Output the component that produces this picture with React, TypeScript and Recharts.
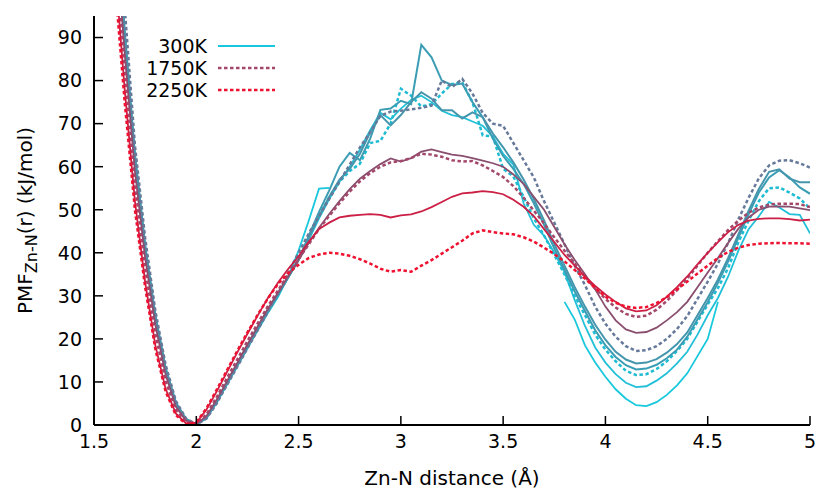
import React from "react";
import { LineChart, Line, XAxis, YAxis, Legend } from "recharts";

// Zn-N distance grid (Å)
const dist = [
  1.6, 1.65, 1.7, 1.75, 1.8, 1.85, 1.9, 1.95, 2.0, 2.05, 2.1, 2.15, 2.2, 2.25, 2.3, 2.35, 2.4, 2.45, 2.5,
  2.55, 2.6, 2.65, 2.7, 2.75, 2.8, 2.85, 2.9, 2.95, 3.0, 3.05, 3.1, 3.15, 3.2, 3.25, 3.3, 3.35, 3.4, 3.45,
  3.5, 3.55, 3.6, 3.65, 3.7, 3.75, 3.8, 3.85, 3.9, 3.95, 4.0, 4.05, 4.1, 4.15, 4.2, 4.25, 4.3, 4.35, 4.4,
  4.45, 4.5, 4.55, 4.6, 4.65, 4.7, 4.75, 4.8, 4.85, 4.9, 4.95, 5.0
];

// PMF curves (kJ/mol), one per temperature
const pmf300 = [
  122, 90, 62, 41, 25, 13, 5, 1.3, 0.1, 1.6, 5.2, 9.4, 13.6, 17.8, 22, 26, 29.8, 34.5, 40.5,
  47.5, 54.9, 55.1, null, null, null, null, null, null, null, null, null, null, null, null, null, null, null, null,
  null, null, null, null, null, null, 28.6, 24.5, 18.5, 14.5, 11.2, 8.3, 6.1, 4.6, 4.4, 5.3, 7, 9.2, 12,
  16, 20, 28.6, null, null, null, null, null, null, null, null, null
];
const pmfB = [
  121, 89, 61.5, 40.5, 24.5, 12.7, 4.8, 1.2, 0.1, 1.7, 5.4, 9.7, 13.9, 18.1, 22.3, 26.3, 30.3, 34.3, 38.3,
  43, 48, 52.5, 56.5, 60, 64, 68.5, 72.5, 71, 73.5, 75.5, 76.5, 75, 73, 72, 71.5, 70.5, 69.5, 67,
  63, 60.5, 51.5, 46.5, 44, 40, 35.5, 29, 23, 18, 14.5, 11.8, 9.8, 8.8, 9, 10.3, 12, 14.3, 17,
  21, 25.5, 29.5, 34.5, 40.5, 45.5, 48.5, 51.8, 50.5, 49, 48.8, 44.5
];
const pmfC = [
  120, 88.5, 61, 40.2, 24.3, 12.5, 4.7, 1.2, 0.1, 1.8, 5.6, 9.9, 14.1, 18.4, 22.6, 26.7, 30.6, 34.5, 38.5,
  43.5, 48.5, 53, 56.5, 59, 60.7, 65.5, 66, 70, 78.1, 76.5, 74, 74.5, 77, 79.2, 79.6, 75, 67.3, 67,
  59.5, 57.7, 53, 48, 44, 39.5, 35, 30, 25.5, 21, 17.5, 14.8, 12.6, 11.6, 11.8, 13, 14.8, 17.2, 20,
  24, 28, 31.8, 36.5, 42.5, 47.5, 52, 55, 55.2, 54, 52.6, 50.3
];
const pmfD = [
  124, 91.5, 63, 41.8, 25.5, 13.3, 5.2, 1.4, 0.1, 1.6, 5.3, 9.6, 13.8, 18, 22.2, 26.3, 30.3, 34.3, 38.4,
  44, 49.5, 54.5, 60, 63.2, 61.5, 66.5, 73.2, 73.5, 75.3, 74.5, 88.3, 85.4, 80, 79, 79.3, 75, 71.5, 66.5,
  62.5, 59.5, 56, 51.5, 46.5, 41, 36, 31, 26.5, 22, 18.5, 15.8, 13.9, 12.9, 13.1, 14, 15.5, 17.5, 20.5,
  24.5, 28.5, 33, 38, 43.5, 49, 54, 57.5, 59.2, 57.5, 55.2, 53.7
];
const pmfE = [
  123, 91, 62.5, 41.5, 25.2, 13.1, 5.1, 1.3, 0.1, 1.7, 5.4, 9.7, 13.9, 18.1, 22.3, 26.4, 30.4, 34.4, 38.5,
  43.5, 48.5, 53, 57, 59.5, 63, 68, 72, 69.6, 72, 75, 77.3, 75.8, 73.1, 73.1, 71.2, 72.6, 71.5, 67.7,
  64.5, 61, 57, 52.5, 47.5, 42, 37, 32, 27.5, 23.3, 19.8, 17, 15.2, 14.3, 14.5, 15.3, 16.8, 18.8, 21.5,
  25.5, 29.5, 33.8, 38.8, 44.3, 49.8, 54.8, 58.8, 59.4, 57.2, 56.4, 56.4
];
const pmfF = [
  130, 97, 65, 43.5, 26.5, 14, 5.6, 1.5, 0.1, 1.5, 5, 9.3, 13.5, 17.8, 22, 26.3, 30.6, 35.5, 40,
  44.5, 48.5, 52.5, 56.5, 60.5, 64.5, 68, 71.8, 72.8, 73, 73.3, 73.7, 74.2, 80, 78.5, 80.4, 77, 72.5, 70,
  69.5, 65.5, 61.5, 57.5, 52, 47, 42, 37, 32.5, 27.5, 23.5, 20.5, 18.3, 17.2, 17.4, 18.3, 20, 22.3, 25.3,
  29.3, 33.3, 37.5, 42.3, 47.8, 52.8, 57.3, 60.3, 61.4, 61.5, 60.8, 59.8
];
const pmfG = [
  118, 86.5, 59, 39, 23.3, 11.7, 4.3, 1, 0.2, 2.1, 5.9, 10.2, 14.4, 18.7, 22.9, 27, 30.8, 34.6, 38.3,
  42.3, 45.8, 49, 52, 54.8, 57.2, 59, 60.6, 61.9, 61.2, 62, 63.5, 64, 63.4, 62.8, 62.5, 62, 61.4, 60.8,
  60, 58.2, 56, 53, 50, 46, 42, 38.3, 35, 31.5, 27.5, 24.3, 22.2, 21.4, 21.6, 22.6, 24.3, 26.2, 28.6,
  32, 35.4, 38.8, 42.3, 45.6, 48.2, 50, 50.7, 50.8, 50.7, 50.3, 49.9
];
const pmf1750 = [
  114, 83, 56, 36.5, 21.2, 10.2, 3.6, 0.7, 0.3, 2.5, 6.5, 10.9, 15.2, 19.5, 23.6, 27.6, 31.3, 35, 38.5,
  42, 45.5, 48.6, 51.5, 54.2, 56.6, 58.5, 60, 61, 61.3, 62, 63, 62.8, 62.3, 61.5, 61.2, 61.3, 60.3, 59,
  57.6, 55.5, 52.8, 49.8, 46.8, 43.6, 40.5, 37.5, 34.4, 31.7, 29.3, 27.3, 25.8, 25.1, 25.4, 26.8, 28.8, 31.3, 34,
  37, 40, 42.7, 45.3, 47.5, 49.3, 50.5, 51.2, 51.4, 51.4, 51.3, 50.6
];
const pmfI = [
  108, 78, 52, 33.2, 18.5, 8.4, 2.7, 0.4, 0.5, 3.6, 7.8, 12.3, 16.8, 21.2, 25.4, 29.5, 33.1, 36.3, 39.2,
  42.6, 45.5, 47, 48.2, 48.6, 48.8, 49, 48.8, 48.2, 48.7, 48.9, 49.6, 50.6, 51.8, 53, 53.8, 54, 54.3, 54.1,
  53.6, 52.3, 50.7, 48.5, 45.5, 42.5, 39.5, 37, 34.5, 32.3, 30.3, 28.6, 27.1, 26.4, 26.6, 27.8, 29.8, 32, 34.5,
  37.3, 40, 42.5, 44.8, 46.5, 47.5, 47.9, 48, 48, 47.8, 47.5, 47.7
];
const pmf2250 = [
  104, 75, 50, 32, 17.6, 7.8, 2.3, 0.2, 0.6, 3.9, 8.2, 12.7, 17.2, 21.5, 25.6, 29.4, 32.8, 35.3, 37.2,
  38.8, 39.6, 40, 39.8, 39.3, 38.5, 37.5, 36.3, 35.6, 36, 35.6, 37, 38.3, 39.8, 41.3, 42.8, 44.5, 45.2, 44.8,
  44.5, 44.3, 43.6, 42.6, 41.2, 39.7, 38, 36, 34, 31.8, 29.8, 28.4, 27.5, 27.2, 27.4, 28.3, 29.7, 31.5, 33.3,
  35.2, 37, 38.8, 40.2, 41.2, 41.8, 42.1, 42.2, 42.3, 42.2, 42.2, 42.1
];

const xTicks = [1.5, 2, 2.5, 3, 3.5, 4, 4.5, 5];
const yTicks = [0, 10, 20, 30, 40, 50, 60, 70, 80, 90];

const series = [
  { key: "t300", name: "300K", color: "#18c8dc", dash: undefined, width: 1.8, legend: true },
  { key: "tB", name: "B", color: "#22c0d8", dash: undefined, width: 1.8, legend: false },
  { key: "tC", name: "C", color: "#1dbcd3", dash: "3.5 2.5", width: 2.5, legend: false },
  { key: "tD", name: "D", color: "#3b9db4", dash: undefined, width: 2, legend: false },
  { key: "tE", name: "E", color: "#4596ad", dash: undefined, width: 2, legend: false },
  { key: "tF", name: "F", color: "#66799a", dash: "3.5 2.5", width: 2.5, legend: false },
  { key: "tG", name: "G", color: "#8a4e6f", dash: undefined, width: 1.8, legend: false },
  { key: "t1750", name: "1750K", color: "#a3486a", dash: "3.5 2.5", width: 2.5, legend: true },
  { key: "tI", name: "I", color: "#cc1f45", dash: undefined, width: 1.8, legend: false },
  { key: "t2250", name: "2250K", color: "#ee1230", dash: "3.5 2.5", width: 2.5, legend: true }
];

const data = dist.map((r, i) => ({
  r,
  t300: pmf300[i],
  tB: pmfB[i],
  tC: pmfC[i],
  tD: pmfD[i],
  tE: pmfE[i],
  tF: pmfF[i],
  tG: pmfG[i],
  t1750: pmf1750[i],
  tI: pmfI[i],
  t2250: pmf2250[i]
}));

const FONT = "DejaVu Sans, sans-serif";

const YTick = ({ x, y, payload }: any) => (
  <g>
    <line x1={x} x2={x + 9} y1={y} y2={y} stroke="#000" strokeWidth={1.5} />
    <text x={x - 12} y={y} dy="0.36em" textAnchor="end" fontSize={19} fontFamily={FONT} fill="#000">
      {payload.value}
    </text>
  </g>
);

const XTick = ({ x, y, payload }: any) => (
  <g>
    <line x1={x} x2={x} y1={y} y2={y - 9} stroke="#000" strokeWidth={1.5} />
    <text x={x} y={y + 23} textAnchor="middle" fontSize={19} fontFamily={FONT} fill="#000">
      {payload.value}
    </text>
  </g>
);

const YLabel = ({ viewBox }: any) => {
  const cx = viewBox.x + 32;
  const cy = viewBox.y + viewBox.height / 2;
  return (
    <text
      x={cx}
      y={cy}
      transform={`rotate(-90, ${cx}, ${cy})`}
      textAnchor="middle"
      fontSize={20}
      fontFamily={FONT}
      fill="#000"
    >
      PMF
      <tspan fontSize={16} dy={5}>Zn-N</tspan>
      <tspan dy={-5}>(r) (kJ/mol)</tspan>
    </text>
  );
};

const LegendBox = ({ payload }: any) => {
  const keys = (payload || []).map((p: any) => p.dataKey);
  const items = series.filter(s => s.legend && (keys.length === 0 || keys.includes(s.key)));
  return (
    <svg width={290} height={110}>
      {items.map((s, i) => {
        const y = 46 + i * 22;
        return (
          <g key={s.key}>
            <text x={207} y={y} dy="0.36em" textAnchor="end" fontSize={19} fontFamily={FONT} fill="#000">
              {s.name}
            </text>
            <line x1={218} x2={275} y1={y} y2={y} stroke={s.color} strokeWidth={s.width} strokeDasharray={s.dash} />
          </g>
        );
      })}
    </svg>
  );
};

const App: React.FC = () => {
  return (
    <div style={{ fontFamily: FONT }}>
      <style>{"html, body { margin: 0; padding: 0; overflow: hidden; }"}</style>
      <LineChart width={816} height={489} data={data} margin={{ top: 16, right: 6, bottom: 0, left: 0 }}>
        <XAxis
          dataKey="r"
          type="number"
          domain={[1.5, 5]}
          ticks={xTicks}
          allowDataOverflow
          height={64}
          tickSize={0}
          tickMargin={0}
          tickLine={false}
          axisLine={{ stroke: "#000", strokeWidth: 2 }}
          tick={<XTick />}
          label={{ value: "Zn-N distance (Å)", position: "insideBottom", offset: 4, fontSize: 20, fill: "#000", fontFamily: FONT }}
        />
        <YAxis
          type="number"
          domain={[0, 95]}
          ticks={yTicks}
          allowDataOverflow
          width={94}
          tickSize={0}
          tickMargin={0}
          tickLine={false}
          axisLine={{ stroke: "#000", strokeWidth: 2 }}
          tick={<YTick />}
          label={<YLabel />}
        />
        <Legend
          layout="vertical"
          align="center"
          verticalAlign="middle"
          wrapperStyle={{ left: 0, top: 0, width: 290, height: 110 }}
          content={<LegendBox />}
        />
        {series.map(s => (
          <Line
            key={s.key}
            type="linear"
            dataKey={s.key}
            name={s.name}
            stroke={s.color}
            strokeWidth={s.width}
            strokeDasharray={s.dash}
            dot={false}
            activeDot={false}
            legendType={s.legend ? "line" : "none"}
            isAnimationActive={false}
          />
        ))}
      </LineChart>
    </div>
  );
};

export default App;
